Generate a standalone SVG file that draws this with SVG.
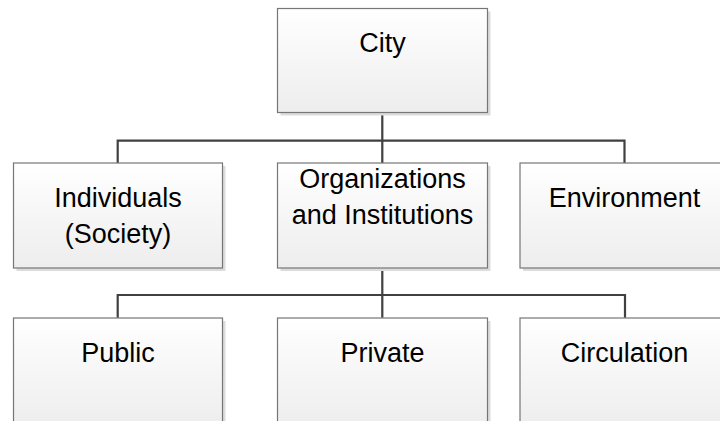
<svg xmlns="http://www.w3.org/2000/svg" width="720" height="421" viewBox="0 0 720 421">
<defs>
<linearGradient id="g" x1="0" y1="0" x2="0" y2="1">
<stop offset="0" stop-color="#ffffff"/>
<stop offset="1" stop-color="#ededed"/>
</linearGradient>
</defs>
<style>
.sh{fill:#dcdcdc;stroke:none}
.bx{fill:url(#g);stroke:#767676;stroke-width:1.2}
.t{font-family:"Liberation Sans",Arial,sans-serif;font-size:27px;fill:#000;text-anchor:middle}
.c{fill:none;stroke:#404040;stroke-width:2.2}
</style>
<rect width="720" height="421" fill="#fff"/>
<g id="connectors">
<path class="c" d="M382.3 112.7V163.3M117.7 163V140.7H624.5V163"/>
<path class="c" d="M382.3 267.7V317.7M117.7 317.7V295H625V317.7"/>
</g>
<g id="city">
<rect class="sh" x="280.5" y="11.5" width="210" height="104"/>
<rect class="bx" x="277.5" y="8.5" width="210" height="104"/>
<text class="t" x="382.5" y="51.7">City</text>
</g>
<g id="individuals">
<rect class="sh" x="16.5" y="166" width="209" height="105"/>
<rect class="bx" x="13.5" y="163" width="209" height="105"/>
<text class="t" x="118" y="207.3">Individuals</text>
<text class="t" x="118" y="242.7">(Society)</text>
</g>
<g id="organizations">
<rect class="sh" x="280.5" y="166" width="210" height="105"/>
<rect class="bx" x="277.5" y="163" width="210" height="105"/>
<text class="t" x="382.5" y="188.3">Organizations</text>
<text class="t" x="382.5" y="224">and Institutions</text>
</g>
<g id="environment">
<rect class="sh" x="523" y="166" width="210" height="105"/>
<rect class="bx" x="520" y="163" width="210" height="105"/>
<text class="t" x="624.5" y="207.3">Environment</text>
</g>
<g id="public">
<rect class="sh" x="16.5" y="321" width="209" height="110"/>
<rect class="bx" x="13.5" y="318" width="209" height="110"/>
<text class="t" x="118" y="361.7">Public</text>
</g>
<g id="private">
<rect class="sh" x="280.5" y="321" width="210" height="110"/>
<rect class="bx" x="277.5" y="318" width="210" height="110"/>
<text class="t" x="382.5" y="361.7">Private</text>
</g>
<g id="circulation">
<rect class="sh" x="523" y="321" width="210" height="110"/>
<rect class="bx" x="520" y="318" width="210" height="110"/>
<text class="t" x="624.5" y="361.7">Circulation</text>
</g>
</svg>
